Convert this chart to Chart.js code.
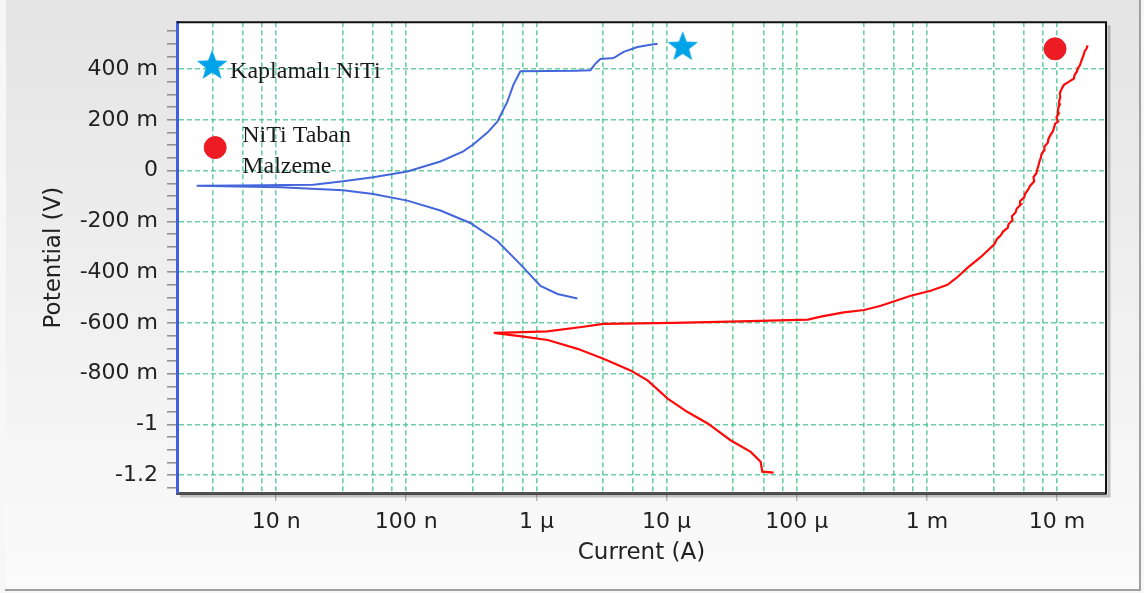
<!DOCTYPE html>
<html>
<head>
<meta charset="utf-8">
<script src="https://cdn.jsdelivr.net/npm/chart.js@4.4.0/dist/chart.umd.min.js"></script>
<style>
  html, body { margin: 0; padding: 0; background: #fff; }
  #wrap { width: 1144px; height: 593px; position: relative; }
</style>
</head>
<body>
<div id="wrap"><canvas id="tafel"></canvas></div>
<script>
// Kaplamalı NiTi (mavi) - katodik uçtan başlayıp anodik uca
const coatedCurrent = [
  2.065e-6, 1.452e-6, 1.074e-6, 7.53e-7, 5.01e-7, 3.10e-7, 1.828e-7, 1.019e-7, 5.57e-8, 3.27e-8, 1.074e-8, 2.45e-9,
  5.0e-9, 1.93e-8, 3.27e-8, 5.57e-8, 1.019e-7, 1.828e-7, 2.74e-7, 3.27e-7, 4.2e-7, 5.01e-7, 5.5e-7, 5.98e-7, 6.65e-7, 7.53e-7,
  1.26e-6, 2.0e-6, 2.6e-6, 2.82e-6, 3.1e-6, 3.91e-6, 4.68e-6, 5.98e-6, 7.53e-6, 8.53e-6
];
const coatedPotential = [
  -0.504, -0.486, -0.454, -0.369, -0.277, -0.206, -0.157, -0.118, -0.092, -0.077, -0.065, -0.059,
  -0.058, -0.055, -0.042, -0.026, -0.003, 0.036, 0.076, 0.103, 0.15, 0.193, 0.235, 0.272, 0.338, 0.392,
  0.393, 0.394, 0.396, 0.42, 0.44, 0.444, 0.468, 0.487, 0.496, 0.5
];

// NiTi taban malzeme (kırmızı)
const baseCurrent = [
  6.65e-5, 5.44e-5, 5.28e-5, 4.43e-5, 3.10e-5, 2.07e-5, 1.45e-5, 1.02e-5, 7.14e-6, 5.28e-6, 3.27e-6, 2.07e-6, 1.22e-6, 7.94e-7, 4.70e-7,
  7.94e-7, 1.21e-6, 2.30e-6, 3.27e-6, 1.13e-5, 3.71e-5, 1.22e-4, 1.53e-4, 2.30e-4, 3.30e-4, 4.43e-4, 7.53e-4, 1.07e-3, 1.44e-3,
  1.73e-3, 2.06e-3, 2.6e-3,
  3.30e-3, 3.45e-3, 3.7e-3, 3.85e-3, 4.18e-3, 4.25e-3, 4.55e-3, 4.5e-3, 4.8e-3, 4.9e-3, 5.28e-3, 5.2e-3, 5.6e-3, 5.7e-3,
  6.0e-3, 6.2e-3, 6.68e-3, 6.6e-3, 6.95e-3, 7.05e-3, 7.2e-3, 7.33e-3, 7.5e-3, 7.6e-3, 7.95e-3, 8.0e-3, 8.5e-3, 8.6e-3,
  8.9e-3, 9.3e-3, 9.5e-3, 9.7e-3, 1.02e-2, 9.9e-3, 1.03e-2, 1.02e-2, 1.05e-2, 1.04e-2, 1.06e-2, 1.05e-2, 1.08e-2, 1.13e-2,
  1.23e-2, 1.35e-2, 1.36e-2, 1.42e-2, 1.45e-2, 1.5e-2, 1.53e-2, 1.56e-2, 1.6e-2, 1.63e-2, 1.69e-2, 1.72e-2
];
const basePotential = [
  -1.19, -1.186, -1.147, -1.108, -1.062, -0.996, -0.951, -0.898, -0.826, -0.787, -0.741, -0.702, -0.667, -0.654, -0.639,
  -0.636, -0.633, -0.615, -0.604, -0.6, -0.594, -0.587, -0.575, -0.558, -0.549, -0.532, -0.493, -0.473, -0.45,
  -0.418, -0.382, -0.34,
  -0.29, -0.27, -0.255, -0.24, -0.225, -0.21, -0.195, -0.18, -0.165, -0.15, -0.133, -0.12, -0.105, -0.09,
  -0.075, -0.06, -0.042, -0.025, -0.01, 0.005, 0.02, 0.036, 0.05, 0.065, 0.08, 0.095, 0.11, 0.125,
  0.14, 0.155, 0.17, 0.185, 0.193, 0.21, 0.225, 0.245, 0.26, 0.275, 0.29, 0.305, 0.32, 0.338,
  0.35, 0.363, 0.375, 0.39, 0.405, 0.415, 0.429, 0.44, 0.455, 0.47, 0.482, 0.494
];

// işaretler (lejant + eğri uçları)
const coatedMarkerCurrent = [3.22e-9, 1.33e-5];
const coatedMarkerPotential = [0.413, 0.487];
const baseMarkerCurrent = [3.4e-9, 9.66e-3];
const baseMarkerPotential = [0.091, 0.48];

// eksenler
const xTickValues = [1e-8, 1e-7, 1e-6, 1e-5, 1e-4, 1e-3, 1e-2];
const xTickLabels = ['10 n', '100 n', '1 µ', '10 µ', '100 µ', '1 m', '10 m'];
const xMinorFactors = [3.25, 5.55, 7.8];
const yTickValues = [-1.2, -1, -0.8, -0.6, -0.4, -0.2, 0, 0.2, 0.4];
const yTickLabels = ['-1.2', '-1', '-800 m', '-600 m', '-400 m', '-200 m', '0', '200 m', '400 m'];
const xMin = 1.73e-9, xMax = 2.38e-2;
const yMin = -1.27, yMax = 0.585;

const gridGreen = 'rgba(70, 195, 140, 0.8)';
const textColor = '#222';

const pts = (xs, ys) => xs.map((x, i) => ({ x, y: ys[i] }));

function makeStar(r, color) {
    const c = document.createElement('canvas');
    c.width = c.height = r * 2 + 2;
    const g = c.getContext('2d');
    g.fillStyle = color;
    g.beginPath();
    for (let i = 0; i < 10; i++) {
        const rad = i % 2 ? r * 0.42 : r;
        const a = -Math.PI / 2 + i * Math.PI / 5;
        const px = r + 1 + rad * Math.cos(a), py = r + 1 + rad * Math.sin(a);
        i ? g.lineTo(px, py) : g.moveTo(px, py);
    }
    g.closePath();
    g.fill();
    return c;
}
const star = makeStar(16, '#00a2e8');

const isDecade = (v) => xTickValues.some(t => Math.abs(Math.log10(t) - Math.log10(v)) < 1e-6);
const yIndex = (v) => yTickValues.findIndex(t => Math.abs(t - v) < 1e-6);

const frame = {
    id: 'frame',
    beforeDraw(chart) {
        const { ctx, chartArea: a, width, height } = chart;
        ctx.save();
        ctx.fillStyle = '#f7f7f7';
        ctx.fillRect(0, 0, width, height);
        const g = ctx.createLinearGradient(0, 0, 0, height);
        g.addColorStop(0, '#e4e4e4');
        g.addColorStop(1, '#fbfbfb');
        ctx.fillStyle = g;
        ctx.fillRect(6, 0, 1134, 589);
        ctx.strokeStyle = '#a0a0a0';
        ctx.lineWidth = 2;
        ctx.beginPath();
        ctx.moveTo(5, 590); ctx.lineTo(1140, 590); ctx.lineTo(1140, 0);
        ctx.stroke();
        ctx.fillStyle = '#fff';
        ctx.fillRect(a.left, a.top, a.right - a.left, a.bottom - a.top);
        ctx.restore();
    },
    afterDraw(chart) {
        const { ctx, chartArea: a, scales } = chart;
        ctx.save();
        // gölge
        ctx.strokeStyle = 'rgba(0,0,0,0.22)';
        ctx.lineWidth = 3;
        ctx.beginPath();
        ctx.moveTo(a.right + 3, a.top + 3); ctx.lineTo(a.right + 3, a.bottom + 3); ctx.lineTo(a.left + 3, a.bottom + 3);
        ctx.stroke();
        ctx.strokeStyle = '#111';
        ctx.lineWidth = 2;
        ctx.beginPath();
        ctx.moveTo(a.left, a.top); ctx.lineTo(a.right, a.top); ctx.lineTo(a.right, a.bottom + 1);
        ctx.stroke();

        // lejant yazıları
        const x = scales.x, y = scales.y;
        ctx.fillStyle = '#1a1a1a';
        ctx.font = '24px "Liberation Serif", "Times New Roman", serif';
        ctx.textBaseline = 'alphabetic';
        ctx.textAlign = 'left';
        const sx = x.getPixelForValue(coatedMarkerCurrent[0]), sy = y.getPixelForValue(coatedMarkerPotential[0]);
        ctx.fillText('Kaplamalı NiTi', sx + 18, sy + 12);
        const cx = x.getPixelForValue(baseMarkerCurrent[0]), cy = y.getPixelForValue(baseMarkerPotential[0]);
        ctx.fillText('NiTi Taban', cx + 27, cy - 6);
        ctx.fillText('Malzeme', cx + 27, cy + 25);
        ctx.restore();
    }
};

const yMinor = [];
for (let k = -25; k <= 11; k++) yMinor.push(Math.round(k * 5) / 100);

new Chart(document.getElementById('tafel'), {
    type: 'line',
    data: {
        datasets: [
            { label: 'Kaplamalı NiTi', data: pts(coatedCurrent, coatedPotential), borderColor: '#4466dd', borderWidth: 2, pointRadius: 0, tension: 0 },
            { label: 'NiTi Taban Malzeme', data: pts(baseCurrent, basePotential), borderColor: '#ff0a0a', borderWidth: 2.2, pointRadius: 0, tension: 0 },
            { type: 'scatter', data: pts(coatedMarkerCurrent, coatedMarkerPotential), pointStyle: star, pointRadius: 16, showLine: false },
            { type: 'scatter', data: pts(baseMarkerCurrent, baseMarkerPotential), pointStyle: 'circle', pointRadius: 11, backgroundColor: '#ed1c24', borderColor: '#ed1c24', borderWidth: 1, showLine: false }
        ]
    },
    options: {
        responsive: true,
        maintainAspectRatio: false,
        animation: false,
        events: [],
        layout: { padding: { left: 0, top: 20, right: 38, bottom: 0 } },
        plugins: { legend: { display: false }, tooltip: { enabled: false } },
        scales: {
            x: {
                type: 'logarithmic',
                min: xMin, max: xMax,
                afterBuildTicks(scale) {
                    const t = [];
                    for (let k = -9; k <= -2; k++) {
                        const d = Math.pow(10, k);
                        if (d >= xMin && d <= xMax) t.push({ value: d });
                        xMinorFactors.forEach(f => { const v = f * d; if (v >= xMin && v <= xMax) t.push({ value: v }); });
                    }
                    scale.ticks = t.sort((p, q) => p.value - q.value);
                },
                afterFit(scale) { scale.height = 100; },
                grid: {
                    color: gridGreen, lineWidth: 1.6,
                    tickLength: 8, tickWidth: 1,
                    tickColor: (c) => (c.tick && isDecade(c.tick.value)) ? '#999' : 'rgba(0,0,0,0)'
                },
                border: { color: '#505050', width: 3, dash: [5, 3] },
                ticks: {
                    autoSkip: false, maxRotation: 0, padding: 8,
                    color: textColor, font: { family: '"DejaVu Sans", Verdana, sans-serif', size: 22 },
                    callback: (v) => { const i = xTickValues.findIndex(t => Math.abs(Math.log10(t) - Math.log10(v)) < 1e-6); return i >= 0 ? xTickLabels[i] : ''; }
                },
                title: { display: true, text: 'Current (A)', color: textColor, font: { family: '"DejaVu Sans", Verdana, sans-serif', size: 23 }, padding: { top: 0, bottom: 26 } }
            },
            y: {
                type: 'linear',
                min: yMin, max: yMax,
                afterBuildTicks(scale) { scale.ticks = yMinor.map(v => ({ value: v })); },
                afterFit(scale) { scale.width = 177; },
                grid: {
                    color: (c) => (c.tick && yIndex(c.tick.value) >= 0) ? gridGreen : 'rgba(0,0,0,0)',
                    lineWidth: 1.6, tickLength: 10, tickWidth: 1.5, tickColor: '#8c8c8c'
                },
                border: { color: '#3f5fe0', width: 3, dash: [5, 3] },
                ticks: {
                    autoSkip: false, padding: 9,
                    color: textColor, font: { family: '"DejaVu Sans", Verdana, sans-serif', size: 22 },
                    callback: (v) => { const i = yIndex(v); return i >= 0 ? yTickLabels[i] : ''; }
                },
                title: { display: true, text: 'Potential (V)', color: textColor, font: { family: '"DejaVu Sans", Verdana, sans-serif', size: 23 }, padding: { top: 40, bottom: 0 } }
            }
        }
    },
    plugins: [frame]
});
</script>
</body>
</html>
